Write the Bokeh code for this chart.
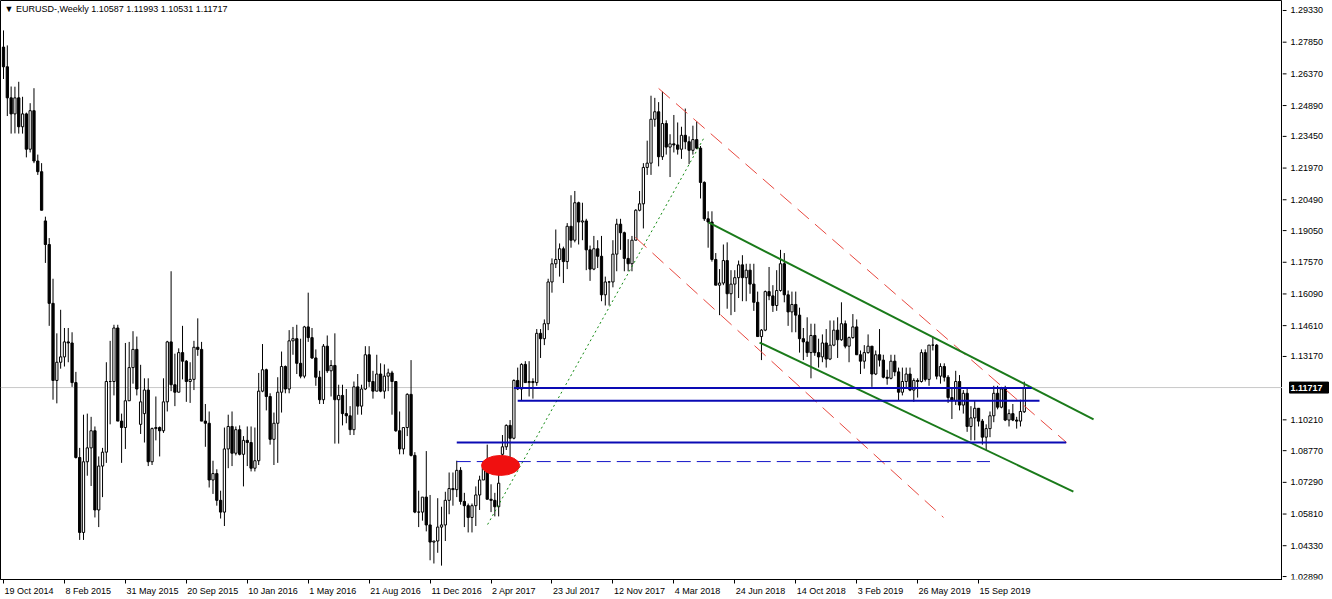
from bokeh.plotting import figure
from bokeh.layouts import row
from bokeh.models import Range1d, FixedTicker, Label, Span, ColumnDataSource
from bokeh.core.properties import value
from bokeh.embed import file_html
from bokeh.resources import INLINE

title_text = "\u25bc EURUSD-,Weekly  1.10587 1.11993 1.10531 1.11717"
last_price = 1.11717

# weekly bars from 19 Oct 2014 to 8 Dec 2019
week_open = [
    # 2014
    1.2762, 1.2670, 1.2525, 1.2450, 1.2525, 1.2390, 1.2450, 1.2285, 1.2465, 1.2230, 1.2180,
    # 2015
    1.1950, 1.1840, 1.1565, 1.1205, 1.1290, 1.1315, 1.1385, 1.1380, 1.1195, 1.0845, 1.0495, 1.0825, 1.0890,
    1.0970, 1.0600, 1.0805, 1.0870, 1.1200, 1.1200, 1.1450, 1.1015, 1.0985, 1.1110, 1.1265, 1.1350, 1.1000,
    1.1050, 1.1160, 1.0825, 1.0980, 1.0985, 1.0970, 1.1105, 1.1385, 1.1185, 1.1150, 1.1335, 1.1295, 1.1200,
    1.1210, 1.1360, 1.1350, 1.1015, 1.1005, 1.0740, 1.0770, 1.0645, 1.0590, 1.0885, 1.0990, 1.0865, 1.0975,
    # 2016
    1.0860, 1.0925, 1.0915, 1.0795, 1.0830, 1.1155, 1.1255, 1.1130, 1.0930, 1.1005, 1.1150, 1.1270, 1.1165,
    1.1390, 1.1400, 1.1285, 1.1225, 1.1455, 1.1405, 1.1310, 1.1220, 1.1115, 1.1365, 1.1250, 1.1275, 1.1115,
    1.1135, 1.1050, 1.1040, 1.0975, 1.1175, 1.1085, 1.1165, 1.1325, 1.1200, 1.1155, 1.1235, 1.1155, 1.1225,
    1.1240, 1.1200, 1.0970, 1.0885, 1.0985, 1.1140, 1.0855, 1.0590, 1.0590, 1.0660, 1.0530, 1.0450, 1.0455,
    # 2017
    1.0520, 1.0530, 1.0645, 1.0700, 1.0695, 1.0785, 1.0640, 1.0620, 1.0565, 1.0620, 1.0670, 1.0740, 1.0800,
    1.0650, 1.0645, 1.0615, 1.0860, 1.0895, 1.0995, 1.0935, 1.1205, 1.1165, 1.1280, 1.1195, 1.1200, 1.1195,
    1.1425, 1.1400, 1.1470, 1.1665, 1.1750, 1.1770, 1.1820, 1.1760, 1.1925, 1.1860, 1.2035, 1.1945, 1.1950,
    1.1815, 1.1725, 1.1820, 1.1785, 1.1605, 1.1665, 1.1665, 1.1795, 1.1935, 1.1895, 1.1775, 1.1750, 1.1860, 1.2000,
    # 2018
    1.2030, 1.2200, 1.2220, 1.2425, 1.2460, 1.2250, 1.2405, 1.2295, 1.2310, 1.2305, 1.2285, 1.2350, 1.2320,
    1.2280, 1.2330, 1.2290, 1.2130, 1.1960, 1.1945, 1.1770, 1.1650, 1.1660, 1.1765, 1.1610, 1.1655, 1.1685,
    1.1745, 1.1685, 1.1720, 1.1655, 1.1570, 1.1410, 1.1440, 1.1620, 1.1600, 1.1555, 1.1625, 1.1750, 1.1605,
    1.1525, 1.1560, 1.1510, 1.1400, 1.1385, 1.1335, 1.1415, 1.1335, 1.1315, 1.1380, 1.1305, 1.1370, 1.1440,
    # 2019
    1.1395, 1.1470, 1.1365, 1.1405, 1.1455, 1.1325, 1.1295, 1.1335, 1.1365, 1.1235, 1.1325, 1.1300, 1.1220,
    1.1215, 1.1295, 1.1245, 1.1150, 1.1200, 1.1235, 1.1160, 1.1205, 1.1200, 1.1335, 1.1210, 1.1370, 1.1370,
    1.1225, 1.1270, 1.1220, 1.1125, 1.1110, 1.1200, 1.1090, 1.1145, 1.0990, 1.1030, 1.1075, 1.1015, 1.0940,
    1.0980, 1.1040, 1.1145, 1.1080, 1.1165, 1.1020, 1.1050, 1.1020, 1.1015, 1.10587,
]

week_high = [
    1.2840, 1.2770, 1.2578, 1.2577, 1.2600, 1.2530, 1.2456, 1.2500, 1.2570, 1.2260, 1.2220,
    1.1970, 1.1870, 1.1680, 1.1425, 1.1535, 1.1450, 1.1450, 1.1430, 1.1245, 1.0890, 1.1045, 1.1050, 1.1035,
    1.0990, 1.0850, 1.0890, 1.1290, 1.1390, 1.1465, 1.1465, 1.1050, 1.1380, 1.1385, 1.1435, 1.1410, 1.1278,
    1.1215, 1.1215, 1.0985, 1.1130, 1.0990, 1.1215, 1.1390, 1.1715, 1.1330, 1.1355, 1.1460, 1.1300, 1.1290,
    1.1390, 1.1495, 1.1385, 1.1095, 1.1060, 1.0830, 1.0790, 1.0690, 1.0985, 1.1045, 1.1060, 1.0990, 1.0995,
    1.0945, 1.0990, 1.0990, 1.0985, 1.1240, 1.1375, 1.1260, 1.1145, 1.1055, 1.1220, 1.1340, 1.1275, 1.1440,
    1.1455, 1.1465, 1.1400, 1.1460, 1.1615, 1.1450, 1.1350, 1.1250, 1.1375, 1.1415, 1.1300, 1.1425, 1.1185,
    1.1185, 1.1165, 1.1085, 1.1200, 1.1235, 1.1185, 1.1365, 1.1365, 1.1250, 1.1325, 1.1285, 1.1280, 1.1260,
    1.1250, 1.1200, 1.1060, 1.0985, 1.1145, 1.1300, 1.0870, 1.0690, 1.0660, 1.0875, 1.0670, 1.0455, 1.0655,
    1.0615, 1.0685, 1.0775, 1.0775, 1.0830, 1.0800, 1.0680, 1.0630, 1.0630, 1.0710, 1.0760, 1.0825, 1.0905,
    1.0720, 1.0680, 1.0780, 1.0950, 1.1000, 1.1020, 1.1210, 1.1265, 1.1285, 1.1295, 1.1295, 1.1215, 1.1445,
    1.1445, 1.1490, 1.1680, 1.1775, 1.1910, 1.1845, 1.1830, 1.1940, 1.2070, 1.2090, 1.2040, 1.2035, 1.1960,
    1.1835, 1.1880, 1.1860, 1.1880, 1.1690, 1.1670, 1.1860, 1.1960, 1.1960, 1.1900, 1.1865, 1.1880, 1.2005, 1.2090,
    1.2220, 1.2325, 1.2535, 1.2525, 1.2505, 1.2555, 1.2420, 1.2355, 1.2445, 1.2410, 1.2390, 1.2475, 1.2345,
    1.2395, 1.2415, 1.2300, 1.2135, 1.1995, 1.1995, 1.1800, 1.1725, 1.1840, 1.1850, 1.1720, 1.1720, 1.1765,
    1.1790, 1.1750, 1.1750, 1.1750, 1.1620, 1.1445, 1.1625, 1.1735, 1.1650, 1.1720, 1.1815, 1.1800, 1.1625,
    1.1620, 1.1620, 1.1545, 1.1450, 1.1500, 1.1470, 1.1470, 1.1400, 1.1420, 1.1445, 1.1485, 1.1485, 1.1500,
    1.1570, 1.1485, 1.1410, 1.1515, 1.1490, 1.1345, 1.1370, 1.1420, 1.1365, 1.1345, 1.1445, 1.1325, 1.1255,
    1.1325, 1.1325, 1.1265, 1.1265, 1.1265, 1.1265, 1.1215, 1.1215, 1.1350, 1.1350, 1.1370, 1.1410, 1.1375,
    1.1285, 1.1285, 1.1230, 1.1165, 1.1250, 1.1230, 1.1160, 1.1165, 1.1085, 1.1110, 1.1075, 1.1025, 1.1000,
    1.1060, 1.1180, 1.1180, 1.1175, 1.1180, 1.1070, 1.1095, 1.1035, 1.1115, 1.11993,
]

week_low = [
    1.2613, 1.2440, 1.2358, 1.2359, 1.2358, 1.2358, 1.2247, 1.2270, 1.2220, 1.2165, 1.2000,
    1.1754, 1.1460, 1.1115, 1.1098, 1.1260, 1.1270, 1.1290, 1.1175, 1.0840, 1.0460, 1.0460, 1.0760, 1.0712,
    1.0565, 1.0520, 1.0660, 1.0820, 1.1000, 1.1135, 1.1060, 1.0820, 1.0885, 1.1110, 1.1190, 1.1135, 1.0955,
    1.0915, 1.0805, 1.0810, 1.0925, 1.0850, 1.0960, 1.1060, 1.1155, 1.1085, 1.1150, 1.1210, 1.1105, 1.1100,
    1.1160, 1.1320, 1.1015, 1.0895, 1.0705, 1.0675, 1.0620, 1.0560, 1.0525, 1.0795, 1.0805, 1.0855, 1.0855,
    1.0710, 1.0805, 1.0780, 1.0780, 1.0810, 1.1150, 1.1065, 1.0905, 1.0810, 1.0820, 1.1055, 1.1145, 1.1145,
    1.1325, 1.1235, 1.1215, 1.1215, 1.1385, 1.1305, 1.1180, 1.1095, 1.1095, 1.1240, 1.1130, 1.0910, 1.0910,
    1.0995, 1.1005, 1.0950, 1.0950, 1.1045, 1.1045, 1.1160, 1.1175, 1.1120, 1.1155, 1.1150, 1.1120, 1.1155,
    1.1045, 1.0965, 1.0860, 1.0860, 1.0945, 1.0850, 1.0585, 1.0520, 1.0550, 1.0500, 1.0365, 1.0350, 1.0400,
    1.0340, 1.0455, 1.0580, 1.0620, 1.0660, 1.0625, 1.0520, 1.0495, 1.0495, 1.0525, 1.0600, 1.0740, 1.0650,
    1.0590, 1.0570, 1.0570, 1.0820, 1.0880, 1.0840, 1.0930, 1.1160, 1.1110, 1.1195, 1.1130, 1.1120, 1.1180,
    1.1310, 1.1370, 1.1440, 1.1615, 1.1730, 1.1690, 1.1660, 1.1725, 1.1825, 1.1850, 1.1840, 1.1860, 1.1720,
    1.1670, 1.1720, 1.1730, 1.1575, 1.1555, 1.1555, 1.1640, 1.1715, 1.1815, 1.1715, 1.1715, 1.1715, 1.1860, 1.1995,
    1.1915, 1.2165, 1.2165, 1.2390, 1.2205, 1.2235, 1.2260, 1.2155, 1.2270, 1.2260, 1.2240, 1.2285, 1.2215,
    1.2260, 1.2285, 1.2055, 1.1950, 1.1825, 1.1760, 1.1650, 1.1510, 1.1650, 1.1540, 1.1510, 1.1525, 1.1590,
    1.1575, 1.1575, 1.1610, 1.1530, 1.1410, 1.1300, 1.1435, 1.1580, 1.1525, 1.1530, 1.1620, 1.1570, 1.1460,
    1.1430, 1.1430, 1.1335, 1.1300, 1.1315, 1.1215, 1.1320, 1.1265, 1.1290, 1.1265, 1.1300, 1.1365, 1.1310,
    1.1390, 1.1355, 1.1290, 1.1400, 1.1325, 1.1235, 1.1260, 1.1330, 1.1175, 1.1230, 1.1270, 1.1215, 1.1185,
    1.1210, 1.1225, 1.1110, 1.1135, 1.1170, 1.1155, 1.1105, 1.1125, 1.1195, 1.1200, 1.1180, 1.1345, 1.1210,
    1.1190, 1.1200, 1.1100, 1.1025, 1.1090, 1.1065, 1.1050, 1.0965, 1.0925, 1.0925, 1.0990, 1.0905, 1.0880,
    1.0940, 1.1010, 1.1070, 1.1075, 1.1015, 1.0990, 1.1015, 1.0980, 1.0990, 1.10531,
]

week_close = [
    1.2670, 1.2525, 1.2450, 1.2525, 1.2390, 1.2450, 1.2285, 1.2465, 1.2230, 1.2180, 1.2000,
    1.1840, 1.1565, 1.1205, 1.1290, 1.1315, 1.1385, 1.1380, 1.1195, 1.0845, 1.0495, 1.0825, 1.0890, 1.0970,
    1.0600, 1.0805, 1.0870, 1.1200, 1.1200, 1.1450, 1.1015, 1.0985, 1.1110, 1.1265, 1.1350, 1.1165, 1.1105,
    1.1160, 1.0825, 1.0980, 1.0985, 1.0970, 1.1105, 1.1385, 1.1185, 1.1150, 1.1335, 1.1295, 1.1200, 1.1210,
    1.1360, 1.1350, 1.1015, 1.1005, 1.0740, 1.0770, 1.0645, 1.0590, 1.0885, 1.0990, 1.0865, 1.0975, 1.0860,
    1.0925, 1.0915, 1.0795, 1.0830, 1.1155, 1.1255, 1.1130, 1.0930, 1.1005, 1.1150, 1.1270, 1.1165, 1.1390,
    1.1400, 1.1285, 1.1225, 1.1455, 1.1405, 1.1310, 1.1220, 1.1115, 1.1365, 1.1250, 1.1275, 1.1115, 1.1135,
    1.1050, 1.1040, 1.0975, 1.1175, 1.1085, 1.1165, 1.1325, 1.1200, 1.1155, 1.1235, 1.1155, 1.1225, 1.1240,
    1.1200, 1.0970, 1.0885, 1.0985, 1.1140, 1.0855, 1.0590, 1.0590, 1.0660, 1.0530, 1.0450, 1.0455, 1.0520,
    1.0530, 1.0645, 1.0700, 1.0695, 1.0785, 1.0640, 1.0620, 1.0565, 1.0620, 1.0670, 1.0740, 1.0800, 1.0650,
    1.0645, 1.0615, 1.0725, 1.0895, 1.0995, 1.0935, 1.1205, 1.1165, 1.1280, 1.1195, 1.1200, 1.1195, 1.1425,
    1.1400, 1.1470, 1.1665, 1.1750, 1.1770, 1.1820, 1.1760, 1.1925, 1.1860, 1.2035, 1.1945, 1.1950, 1.1815,
    1.1725, 1.1820, 1.1785, 1.1605, 1.1665, 1.1665, 1.1795, 1.1935, 1.1895, 1.1775, 1.1750, 1.1860, 1.2000, 1.2030,
    1.2200, 1.2220, 1.2425, 1.2460, 1.2250, 1.2405, 1.2295, 1.2310, 1.2305, 1.2285, 1.2350, 1.2320, 1.2280,
    1.2330, 1.2290, 1.2130, 1.1960, 1.1945, 1.1770, 1.1650, 1.1660, 1.1765, 1.1610, 1.1655, 1.1685, 1.1745,
    1.1685, 1.1720, 1.1655, 1.1570, 1.1410, 1.1440, 1.1620, 1.1600, 1.1555, 1.1625, 1.1750, 1.1605, 1.1525,
    1.1560, 1.1510, 1.1400, 1.1385, 1.1335, 1.1415, 1.1335, 1.1315, 1.1380, 1.1305, 1.1370, 1.1440, 1.1395,
    1.1470, 1.1365, 1.1405, 1.1455, 1.1325, 1.1295, 1.1335, 1.1365, 1.1235, 1.1325, 1.1300, 1.1220, 1.1215,
    1.1295, 1.1245, 1.1150, 1.1200, 1.1235, 1.1160, 1.1205, 1.1200, 1.1335, 1.1210, 1.1370, 1.1370, 1.1225,
    1.1270, 1.1220, 1.1125, 1.1110, 1.1200, 1.1090, 1.1145, 1.0990, 1.1030, 1.1075, 1.1015, 1.0940, 1.0980,
    1.1040, 1.1145, 1.1080, 1.1165, 1.1020, 1.1050, 1.1020, 1.1015, 1.1060, 1.11717,
]

date_labels = ["19 Oct 2014", "8 Feb 2015", "31 May 2015", "20 Sep 2015", "10 Jan 2016",
               "1 May 2016", "21 Aug 2016", "11 Dec 2016", "2 Apr 2017", "23 Jul 2017",
               "12 Nov 2017", "4 Mar 2018", "24 Jun 2018", "14 Oct 2018", "3 Feb 2019",
               "26 May 2019", "15 Sep 2019"]
weeks_per_label = 16

price_ticks = [1.29330, 1.27850, 1.26370, 1.24890, 1.23450, 1.21970, 1.20490, 1.19050,
               1.17570, 1.16090, 1.14610, 1.13170, 1.10210, 1.08770, 1.07290, 1.05810,
               1.04330, 1.02890]

# horizontal levels (bar index from, bar index to, price)
level_from = [134, 135, 119]
level_to = [270, 272, 279]
level_price = [1.1170, 1.1110, 1.0915]
dashed_from, dashed_to, dashed_price = 119, 259, 1.0826

# trend lines (bar, price) -> (bar, price)
support_dotted = [(127.1, 1.0532), (183.8, 1.2335)]
red_upper = [(172.0, 1.2569), (279.1, 1.0915)]
red_lower = [(165.9, 1.1873), (246.8, 1.0565)]
green_upper = [(185.1, 1.1943), (286.2, 1.1023)]
green_lower = [(198.5, 1.1382), (280.9, 1.0686)]
marker_ellipse = (130.5, 1.0808, 10.0, 0.0093)

# ---------------------------------------------------------------
H = 599
main_w, axis_w = 1282, 50
bottom_h = 20
frame_w, frame_h = main_w, H - bottom_h
x0, x1 = -0.79, 335.8
y1 = 1.29797
y0 = 1.02752
px_x = (x1 - x0) / frame_w
px_y = (y1 - y0) / frame_h
font = "Liberation Sans"

p = figure(width=main_w, height=H, output_backend="svg", toolbar_location=None,
           x_range=Range1d(x0, x1), y_range=Range1d(y0, y1),
           y_axis_location=None,
           min_border_left=0, min_border_top=0,
           min_border_right=0, min_border_bottom=bottom_h)
p.grid.visible = False
p.outline_line_color = "black"
p.outline_line_width = 1
p.background_fill_color = "white"
p.border_fill_color = "white"

# date labels start at their tick (MT4 style): label centres are offset by half their width
char_w = {" ": 278, "O": 778, "c": 500, "t": 278, "F": 611, "e": 556, "b": 556, "M": 833,
          "a": 556, "y": 500, "S": 667, "p": 556, "J": 500, "n": 556, "D": 722, "A": 667,
          "r": 333, "u": 556, "l": 222, "N": 722, "o": 556, "v": 500, "g": 556}
def text_px(s, size=9):
    return sum(char_w.get(ch, 556) for ch in s) * size / 1000.0

tick_pos = [k * weeks_per_label for k in range(len(date_labels))]
label_pos = [t + (text_px(s) / 2 + 1) * px_x for t, s in zip(tick_pos, date_labels)]
p.xaxis.ticker = FixedTicker(ticks=label_pos, minor_ticks=tick_pos)
p.xaxis.major_label_overrides = {lp: s for lp, s in zip(label_pos, date_labels)}
p.xaxis.axis_line_color = "black"
p.xaxis.major_tick_out = 0
p.xaxis.major_tick_in = 0
p.xaxis.minor_tick_out = 4
p.xaxis.minor_tick_in = 0
p.xaxis.minor_tick_line_color = "black"
p.xaxis.major_label_standoff = 2
p.xaxis.major_label_text_font = font
p.xaxis.major_label_text_font_size = "9px"
p.xaxis.major_label_text_color = "black"

p.add_layout(Span(location=last_price, dimension="width", line_color="#C8C8C8",
                  line_width=1, level="underlay"))

n = len(week_close)
idx = list(range(n))
src = ColumnDataSource(dict(
    x=idx, o=week_open, h=week_high, l=week_low, c=week_close,
    top=[max(a, b) for a, b in zip(week_open, week_close)],
    bot=[min(a, b) for a, b in zip(week_open, week_close)],
    fill=["white" if c >= o else "black" for o, c in zip(week_open, week_close)],
))
p.segment(x0="x", y0="l", x1="x", y1="h", source=src, line_color="black", line_width=1)
p.vbar(x="x", top="top", bottom="bot", width=0.6, source=src,
       fill_color="fill", line_color="black", line_width=1)

# drawings
p.segment(x0=[support_dotted[0][0]], y0=[support_dotted[0][1]],
          x1=[support_dotted[1][0]], y1=[support_dotted[1][1]],
          line_color="#138A13", line_width=1, line_dash="2 3")
for seg in (red_upper, red_lower):
    p.segment(x0=[seg[0][0]], y0=[seg[0][1]], x1=[seg[1][0]], y1=[seg[1][1]],
              line_color="#E8483F", line_width=1, line_dash="15 8")
for seg in (green_upper, green_lower):
    p.segment(x0=[seg[0][0]], y0=[seg[0][1]], x1=[seg[1][0]], y1=[seg[1][1]],
              line_color="#1A7A1A", line_width=2)
p.segment(x0=level_from, y0=level_price, x1=level_to, y1=level_price,
          line_color="#0A0AB4", line_width=2)
p.segment(x0=[dashed_from], y0=[dashed_price], x1=[dashed_to], y1=[dashed_price],
          line_color="#1414C8", line_width=1, line_dash="14 6")
ex, ey, ew, eh = marker_ellipse
p.ellipse(x=[ex], y=[ey], width=[ew], height=[eh], fill_color="#F01010",
          line_color="#F01010")

p.add_layout(Label(x=x0 + 4 * px_x, y=y1 - 3 * px_y, text=title_text,
                   text_font=font, text_font_size="9px", text_color="black",
                   text_baseline="top", text_align="left"))

# ---- right price scale (shares the price range of the chart) ----
ax = figure(width=axis_w, height=H, output_backend="svg", toolbar_location=None,
            x_range=Range1d(0, axis_w), y_range=p.y_range,
            x_axis_location=None, y_axis_location=None,
            min_border_left=0, min_border_top=0,
            min_border_right=0, min_border_bottom=bottom_h)
ax.grid.visible = False
ax.outline_line_color = None
ax.background_fill_color = "white"
ax.border_fill_color = "white"
ax.segment(x0=[0] * len(price_ticks), y0=price_ticks, x1=[4] * len(price_ticks),
           y1=price_ticks, line_color="black", line_width=1)
ax.text(x=[8] * len(price_ticks), y=price_ticks, text=[f"{t:.5f}" for t in price_ticks],
        text_font=value(font), text_font_size=value("9px"), text_color="black",
        text_baseline="middle", text_align="left")
ax.rect(x=[26.5], y=[last_price], width=[39], height=[11], height_units="screen",
        fill_color="black", line_color="black")
ax.text(x=[8], y=[last_price], text=[f"{last_price:.5f}"],
        text_font=value(font), text_font_size=value("9px"), text_font_style="bold",
        text_color="white", text_baseline="middle", text_align="left")

layout = row(p, ax, spacing=0)
open("out.html", "w").write(file_html(layout, INLINE))
